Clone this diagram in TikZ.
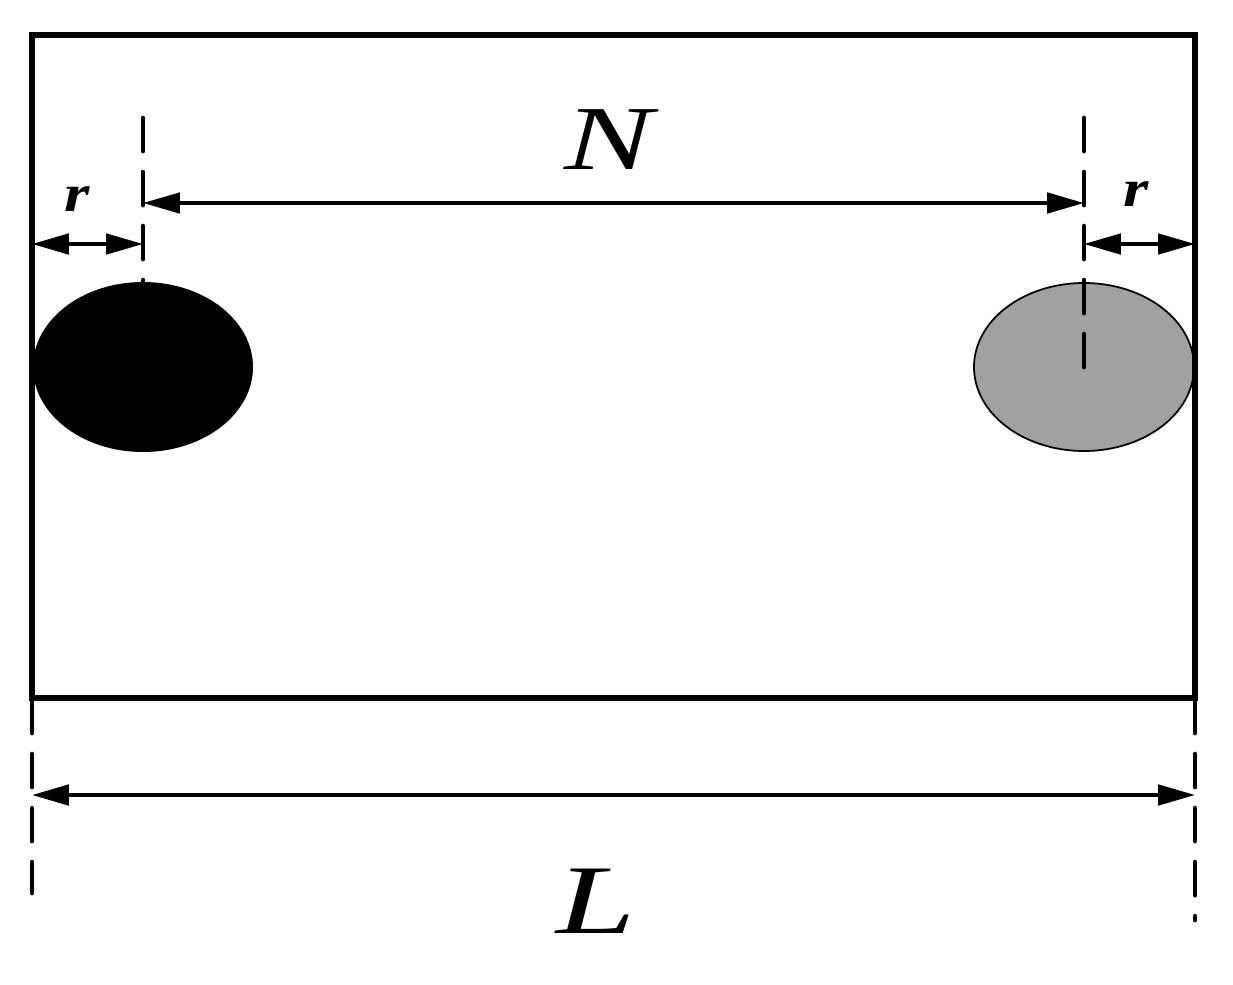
\documentclass[tikz,border=0pt]{standalone}
\usepackage{fontspec}
\setmainfont{Liberation Serif}
\usetikzlibrary{arrows.meta}
\tikzset{
  dim/.style={line width=1.05pt, {Triangle[length=10.5pt,width=5.8pt]}-{Triangle[length=10.5pt,width=5.8pt]}},
  guide/.style={line width=1.35pt, line cap=round, dash pattern=on 0.33cm off 0.21cm},
  lab/.style={inner sep=0pt, xscale=1.45},
  biglab/.style={lab, font=\itshape\fontsize{26}{26}\selectfont},
  smalllab/.style={lab, xscale=0.85, font=\bfseries\itshape\fontsize{15}{15}\selectfont}
}
\begin{document}
\begin{tikzpicture}[x=0.01cm, y=-0.01cm]
					\useasboundingbox (0,0) rectangle (1233,984);
					%Nodes
					\coordinate      (tl) 	at 	(32,35);
					\coordinate      (br) 	at 	(1195,698);
					\coordinate      (sa) 	at 	(143,367);
					\coordinate      (sb) 	at 	(1084,367);
					\coordinate      (ga) 	at 	(143,118);
					\coordinate      (gb) 	at 	(1084,118);
					\coordinate      (na) 	at 	(143,203);
					\coordinate      (nb) 	at 	(1084,203);
					\coordinate      (ra) 	at 	(32,244);
					\coordinate      (rb) 	at 	(143,244);
					\coordinate      (rc) 	at 	(1084,244);
					\coordinate      (rd) 	at 	(1195,244);
					\coordinate      (la) 	at 	(32,795);
					\coordinate      (lb) 	at 	(1195,795);
					\coordinate      (ea) 	at 	(32,700);
					\coordinate      (eb) 	at 	(1195,700);
					\coordinate      (fa) 	at 	(32,893);
					\coordinate      (fb) 	at 	(1195,920);

					%Shapes
					\fill[black] (sa) ellipse [x radius=110, y radius=85];
					\filldraw[fill=black!37, draw=black, line width=0.5pt] (sb) ellipse [x radius=110, y radius=84];
					\draw[line width=1.6pt] (tl) rectangle (br);

					%Lines
					\draw[guide] (ga) -- (143,290);
					\draw[guide] (gb) -- (sb);
					\draw[guide] (ea) -- (fa);
					\draw[guide] (eb) -- (fb);

					\draw[dim] (na) -- (nb);
					\draw[dim] (ra) -- (rb);
					\draw[dim] (rc) -- (rd);
					\draw[dim] (la) -- (lb);

					%Labels
					\node[biglab] (nlabel) at (609,140) {N};
					\node[biglab, font=\itshape\fontsize{28}{28}\selectfont] (llabel) at (596,901) {L};
					\node[smalllab] (rlabela) at (77,199) {r};
					\node[smalllab] (rlabelb) at (1136,194) {r};

\end{tikzpicture}
\end{document}
